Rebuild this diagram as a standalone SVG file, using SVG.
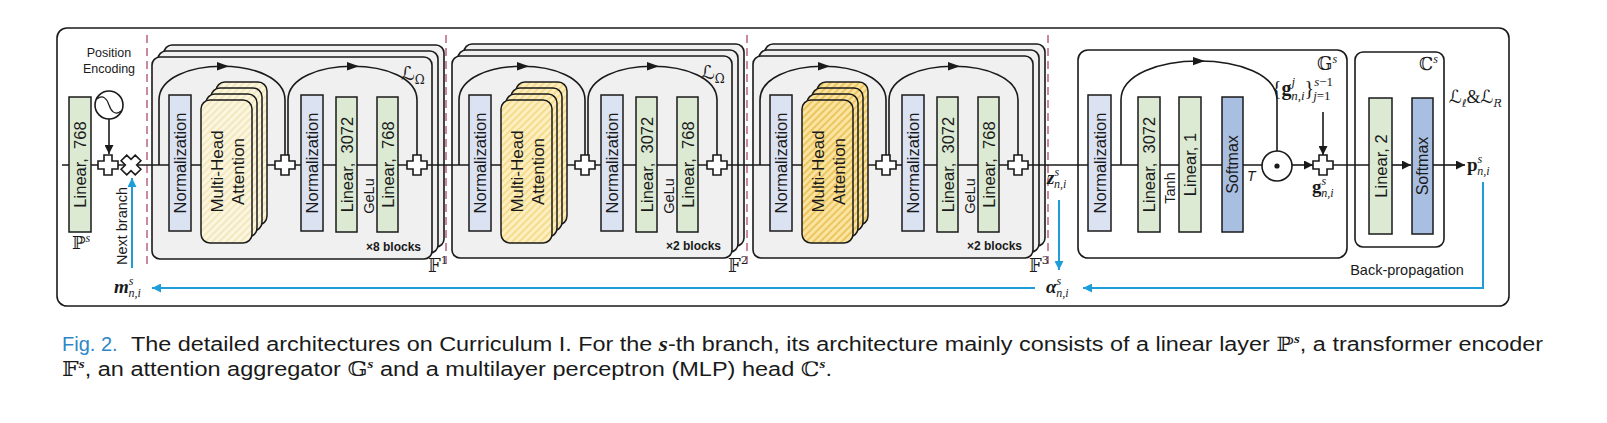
<svg xmlns="http://www.w3.org/2000/svg" width="1607" height="423" viewBox="0 0 1607 423">
<style>
.s{font-family:"Liberation Sans",Arial,sans-serif;fill:#1a1a1a}
.m{font-family:"Liberation Serif","DejaVu Serif",serif;fill:#1a1a1a}
.ds{font-family:"DejaVu Serif","DejaVu Sans",serif;fill:#1a1a1a}
.bx{stroke:#1a1a1a;stroke-width:1.5}
.lin{fill:#dce9d3}
.nrm{fill:#dbe2f2}
.sft{fill:#a9bfe1}
.blk{fill:#f0f0f0;stroke:#1a1a1a;stroke-width:1.6}
.wb{fill:#fff;stroke:#1a1a1a;stroke-width:1.6}
.ln{fill:none;stroke:#1a1a1a;stroke-width:1.6}
.bl{fill:none;stroke:#1e9dd8;stroke-width:2}
.dash{stroke:#c98a9d;stroke-width:2;stroke-dasharray:8 5}
.pl{fill:#fff;stroke:#1a1a1a;stroke-width:1.6}
.bt{font-size:16.5px}
</style>
<defs>
<marker id="ah" viewBox="0 0 10 10" refX="10" refY="5" markerUnits="userSpaceOnUse" markerWidth="11" markerHeight="9" orient="auto"><path d="M0,0 L10,5 L0,10 Z" fill="#1a1a1a"/></marker>
<marker id="ab" viewBox="0 0 10 10" refX="10" refY="5" markerUnits="userSpaceOnUse" markerWidth="11" markerHeight="9" orient="auto"><path d="M0,0 L10,5 L0,10 Z" fill="#1e9dd8"/></marker>
<path id="plus" d="M-4,-10 H4 V-4 H10 V4 H4 V10 H-4 V4 H-10 V-4 H-4 Z"/>
<pattern id="h1" patternUnits="userSpaceOnUse" width="5" height="5" patternTransform="rotate(45)"><rect width="5" height="5" fill="#fcf6df"/><line x1="1" y1="0" x2="1" y2="5" stroke="#efe2b2" stroke-width="1.4"/></pattern>
<pattern id="h2" patternUnits="userSpaceOnUse" width="5" height="5" patternTransform="rotate(45)"><rect width="5" height="5" fill="#fdefbf"/><line x1="1" y1="0" x2="1" y2="5" stroke="#f2d57e" stroke-width="1.5"/></pattern>
<pattern id="h3" patternUnits="userSpaceOnUse" width="5" height="5" patternTransform="rotate(45)"><rect width="5" height="5" fill="#fbe4a0"/><line x1="1" y1="0" x2="1" y2="5" stroke="#e8bd50" stroke-width="1.6"/></pattern>
</defs>
<rect width="1607" height="423" fill="#fff"/>

<g id="outer"><rect x="57" y="28" width="1452" height="278" rx="10" fill="none" stroke="#1a1a1a" stroke-width="1.6"/></g>

<g id="dividers">
<line class="dash" x1="147" y1="35" x2="147" y2="265"/>
<line class="dash" x1="446" y1="35" x2="446" y2="265"/>
<line class="dash" x1="747" y1="35" x2="747" y2="265"/>
<line class="dash" x1="1048" y1="35" x2="1048" y2="265"/>
</g>

<g id="F1-frame">
<rect class="blk" x="164" y="45" width="280" height="202" rx="8"/>
<rect class="blk" x="158" y="51" width="280" height="202" rx="8"/>
<rect class="blk" x="152" y="57" width="280" height="202" rx="8"/>
<text class="ds" x="401" y="80" font-size="19" font-style="italic">ℒ<tspan font-size="12" font-style="normal" dy="4">Ω</tspan></text>
<text class="s" x="421" y="251" font-size="12" font-weight="bold" text-anchor="end">×8 blocks</text>
<text class="ds" x="428" y="272" font-size="18">𝔽<tspan font-size="11" dy="-8">1</tspan></text>
</g>
<g id="F2-frame" transform="translate(300,-1)">
<rect class="blk" x="164" y="45" width="280" height="202" rx="8"/>
<rect class="blk" x="158" y="51" width="280" height="202" rx="8"/>
<rect class="blk" x="152" y="57" width="280" height="202" rx="8"/>
<text class="ds" x="401" y="80" font-size="19" font-style="italic">ℒ<tspan font-size="12" font-style="normal" dy="4">Ω</tspan></text>
<text class="s" x="421" y="251" font-size="12" font-weight="bold" text-anchor="end">×2 blocks</text>
<text class="ds" x="428" y="273" font-size="18">𝔽<tspan font-size="11" dy="-8">2</tspan></text>
</g>
<g id="F3-frame" transform="translate(601,-1)">
<rect class="blk" x="164" y="45" width="280" height="202" rx="8"/>
<rect class="blk" x="158" y="51" width="280" height="202" rx="8"/>
<rect class="blk" x="152" y="57" width="280" height="202" rx="8"/>
<text class="s" x="421" y="251" font-size="12" font-weight="bold" text-anchor="end">×2 blocks</text>
<text class="ds" x="428" y="273" font-size="18">𝔽<tspan font-size="11" dy="-8">3</tspan></text>
</g>

<g id="G-frame">
<rect class="wb" x="1078" y="50" width="269" height="208" rx="10"/>
<text class="ds" x="1317" y="70" font-size="18">𝔾<tspan class="m" font-size="12" font-style="italic" dy="-7">s</tspan></text>
</g>
<g id="C-frame">
<rect class="wb" x="1355" y="52" width="89" height="195" rx="8"/>
<text class="ds" x="1419" y="70" font-size="18">ℂ<tspan class="m" font-size="12" font-style="italic" dy="-7">s</tspan></text>
</g>

<g id="connectors">
<line class="ln" x1="62" y1="165" x2="1262" y2="165"/>
<line class="ln" x1="109" y1="119" x2="109" y2="154" marker-end="url(#ah)"/>
<path class="ln" d="M159,165 V100 C159,55 285,55 285,100 V155"/>
<path class="ln" d="M288,155 V100 C288,55 417,55 417,100 V155"/>
<path class="ln" d="M459,165 V100 C459,55 585,55 585,100 V155"/>
<path class="ln" d="M588,155 V100 C588,55 717,55 717,100 V155"/>
<path class="ln" d="M760,165 V100 C760,55 886,55 886,100 V155"/>
<path class="ln" d="M889,155 V100 C889,55 1018,55 1018,100 V155"/>
<path class="ln" d="M1121,165 V100 C1121,48 1277,48 1277,100 V151"/>
<g fill="#1a1a1a">
<path d="M217,62 L229,66.3 L217,70.5 Z"/>
<path d="M347,62 L359,66.3 L347,70.5 Z"/>
<path d="M517,62 L529,66.3 L517,70.5 Z"/>
<path d="M647,62 L659,66.3 L647,70.5 Z"/>
<path d="M818,62 L830,66.3 L818,70.5 Z"/>
<path d="M948,62 L960,66.3 L948,70.5 Z"/>
<path d="M1193,57 L1205,61 L1193,65.3 Z"/>
</g>
<line class="ln" x1="1292" y1="165" x2="1313" y2="165" marker-end="url(#ah)"/>
<line class="ln" x1="1323" y1="112" x2="1323" y2="155" marker-end="url(#ah)"/>
<line class="ln" x1="1333" y1="165" x2="1369" y2="165"/>
<line class="ln" x1="1392" y1="165" x2="1411" y2="165" marker-end="url(#ah)"/>
<line class="ln" x1="1433" y1="165" x2="1465" y2="165" marker-end="url(#ah)"/>
<line class="bl" x1="132" y1="268" x2="132" y2="178" marker-end="url(#ab)"/>
<line class="bl" x1="1035" y1="288" x2="152" y2="288" marker-end="url(#ab)"/>
<line class="bl" x1="1059" y1="200" x2="1059" y2="270" marker-end="url(#ab)"/>
<polyline class="bl" points="1483,182 1483,288 1083,288" marker-end="url(#ab)"/>
</g>

<g id="P">
<rect class="bx lin" x="69" y="97" width="22" height="135"/>
<text class="s bt" transform="translate(80,164.5) rotate(-90)" text-anchor="middle" dominant-baseline="central" xml:space="preserve">Linear,  768</text>
<text class="ds" x="72" y="249" font-size="18">ℙ<tspan class="m" font-size="12" font-style="italic" dy="-7">s</tspan></text>
</g>
<g id="PE">
<text class="s" x="109" y="57" font-size="12.5" text-anchor="middle" fill="#333">Position</text>
<text class="s" x="109" y="73" font-size="12.5" text-anchor="middle" fill="#333">Encoding</text>
<circle cx="109" cy="105" r="14" fill="#fff" stroke="#1a1a1a" stroke-width="1.6"/>
<path d="M97,99 C103,94 107,99 109,105 C111,111 115,116 121,111" fill="none" stroke="#1a1a1a" stroke-width="1.2"/>
</g>
<g id="add-pe"><use href="#plus" x="108" y="165" class="pl"/></g>
<g id="mix"><use href="#plus" transform="translate(131,165) rotate(45)" class="pl"/></g>
<g id="next-branch">
<text class="s" transform="translate(122,226) rotate(-90)" font-size="14.5" text-anchor="middle" dominant-baseline="central">Next branch</text>
<text class="m" x="114" y="293" font-size="19" font-weight="bold" font-style="italic">m<tspan font-size="12" font-weight="normal" dy="-8">s</tspan><tspan font-size="12" font-weight="normal" dx="-5" dy="12">n,i</tspan></text>
</g>

<g id="F1">
<g id="F1-norm1"><rect class="bx nrm" x="169" y="95" width="22" height="136"/><text class="s bt" transform="translate(180,163) rotate(-90)" text-anchor="middle" dominant-baseline="central">Normalization</text></g>
<g id="F1-mha">
<rect class="bx" fill="url(#h1)" x="216" y="82" width="51" height="143" rx="9"/>
<rect class="bx" fill="url(#h1)" x="211" y="88" width="51" height="143" rx="9"/>
<rect class="bx" fill="url(#h1)" x="206" y="94" width="51" height="143" rx="9"/>
<rect class="bx" fill="url(#h1)" x="201" y="100" width="51" height="143" rx="9"/>
<text class="s" font-size="17" transform="translate(226.5,171.5) rotate(-90)" text-anchor="middle"><tspan x="0" y="-4">Multi-Head</tspan><tspan x="0" y="17">Attention</tspan></text>
</g>
<g id="F1-add1"><use href="#plus" x="285" y="165" class="pl"/></g>
<g id="F1-norm2"><rect class="bx nrm" x="301" y="95" width="22" height="136"/><text class="s bt" transform="translate(312,163) rotate(-90)" text-anchor="middle" dominant-baseline="central">Normalization</text></g>
<g id="F1-lin1"><rect class="bx lin" x="336" y="97" width="21" height="135"/><text class="s bt" transform="translate(346.5,164.5) rotate(-90)" text-anchor="middle" dominant-baseline="central" xml:space="preserve">Linear,  3072</text></g>
<text class="s" transform="translate(369,196) rotate(-90)" font-size="14.5" text-anchor="middle" dominant-baseline="central">GeLu</text>
<g id="F1-lin2"><rect class="bx lin" x="377" y="97" width="21" height="135"/><text class="s bt" transform="translate(387.5,164.5) rotate(-90)" text-anchor="middle" dominant-baseline="central" xml:space="preserve">Linear,  768</text></g>
<g id="F1-add2"><use href="#plus" x="417" y="165" class="pl"/></g>
</g>

<g id="F2" transform="translate(300,0)">
<g id="F2-norm1"><rect class="bx nrm" x="169" y="95" width="22" height="136"/><text class="s bt" transform="translate(180,163) rotate(-90)" text-anchor="middle" dominant-baseline="central">Normalization</text></g>
<g id="F2-mha">
<rect class="bx" fill="url(#h2)" x="216" y="82" width="51" height="143" rx="9"/>
<rect class="bx" fill="url(#h2)" x="211" y="88" width="51" height="143" rx="9"/>
<rect class="bx" fill="url(#h2)" x="206" y="94" width="51" height="143" rx="9"/>
<rect class="bx" fill="url(#h2)" x="201" y="100" width="51" height="143" rx="9"/>
<text class="s" font-size="17" transform="translate(226.5,171.5) rotate(-90)" text-anchor="middle"><tspan x="0" y="-4">Multi-Head</tspan><tspan x="0" y="17">Attention</tspan></text>
</g>
<g id="F2-add1"><use href="#plus" x="285" y="165" class="pl"/></g>
<g id="F2-norm2"><rect class="bx nrm" x="301" y="95" width="22" height="136"/><text class="s bt" transform="translate(312,163) rotate(-90)" text-anchor="middle" dominant-baseline="central">Normalization</text></g>
<g id="F2-lin1"><rect class="bx lin" x="336" y="97" width="21" height="135"/><text class="s bt" transform="translate(346.5,164.5) rotate(-90)" text-anchor="middle" dominant-baseline="central" xml:space="preserve">Linear,  3072</text></g>
<text class="s" transform="translate(369,196) rotate(-90)" font-size="14.5" text-anchor="middle" dominant-baseline="central">GeLu</text>
<g id="F2-lin2"><rect class="bx lin" x="377" y="97" width="21" height="135"/><text class="s bt" transform="translate(387.5,164.5) rotate(-90)" text-anchor="middle" dominant-baseline="central" xml:space="preserve">Linear,  768</text></g>
<g id="F2-add2"><use href="#plus" x="417" y="165" class="pl"/></g>
</g>

<g id="F3" transform="translate(601,0)">
<g id="F3-norm1"><rect class="bx nrm" x="169" y="95" width="22" height="136"/><text class="s bt" transform="translate(180,163) rotate(-90)" text-anchor="middle" dominant-baseline="central">Normalization</text></g>
<g id="F3-mha">
<rect class="bx" fill="url(#h3)" x="216" y="82" width="51" height="143" rx="9"/>
<rect class="bx" fill="url(#h3)" x="211" y="88" width="51" height="143" rx="9"/>
<rect class="bx" fill="url(#h3)" x="206" y="94" width="51" height="143" rx="9"/>
<rect class="bx" fill="url(#h3)" x="201" y="100" width="51" height="143" rx="9"/>
<text class="s" font-size="17" transform="translate(226.5,171.5) rotate(-90)" text-anchor="middle"><tspan x="0" y="-4">Multi-Head</tspan><tspan x="0" y="17">Attention</tspan></text>
</g>
<g id="F3-add1"><use href="#plus" x="285" y="165" class="pl"/></g>
<g id="F3-norm2"><rect class="bx nrm" x="301" y="95" width="22" height="136"/><text class="s bt" transform="translate(312,163) rotate(-90)" text-anchor="middle" dominant-baseline="central">Normalization</text></g>
<g id="F3-lin1"><rect class="bx lin" x="336" y="97" width="21" height="135"/><text class="s bt" transform="translate(346.5,164.5) rotate(-90)" text-anchor="middle" dominant-baseline="central" xml:space="preserve">Linear,  3072</text></g>
<text class="s" transform="translate(369,196) rotate(-90)" font-size="14.5" text-anchor="middle" dominant-baseline="central">GeLu</text>
<g id="F3-lin2"><rect class="bx lin" x="377" y="97" width="21" height="135"/><text class="s bt" transform="translate(387.5,164.5) rotate(-90)" text-anchor="middle" dominant-baseline="central" xml:space="preserve">Linear,  768</text></g>
<g id="F3-add2"><use href="#plus" x="417" y="165" class="pl"/></g>
</g>

<g id="z-label">
<text class="m" x="1047" y="184" font-size="19" font-weight="bold" font-style="italic">z<tspan font-size="12" font-weight="normal" dy="-8">s</tspan><tspan font-size="12" font-weight="normal" dx="-5" dy="12">n,i</tspan></text>
</g>
<g id="alpha-label">
<text class="m" x="1046" y="293" font-size="19" font-weight="bold" font-style="italic">α<tspan font-size="12" font-weight="normal" dy="-8">s</tspan><tspan font-size="12" font-weight="normal" dx="-5" dy="12">n,i</tspan></text>
</g>

<g id="G">
<g id="G-norm"><rect class="bx nrm" x="1088" y="95" width="23" height="136"/><text class="s bt" transform="translate(1099.5,163) rotate(-90)" text-anchor="middle" dominant-baseline="central">Normalization</text></g>
<g id="G-lin1"><rect class="bx lin" x="1138" y="97" width="22" height="135"/><text class="s bt" transform="translate(1149,164.5) rotate(-90)" text-anchor="middle" dominant-baseline="central" xml:space="preserve">Linear,  3072</text></g>
<text class="s" transform="translate(1170,188) rotate(-90)" font-size="14.5" text-anchor="middle" dominant-baseline="central">Tanh</text>
<g id="G-lin2"><rect class="bx lin" x="1179" y="97" width="22" height="135"/><text class="s bt" transform="translate(1190,164.5) rotate(-90)" text-anchor="middle" dominant-baseline="central">Linear, 1</text></g>
<g id="G-soft"><rect class="bx sft" x="1222" y="97" width="21" height="135"/><text class="s" font-size="16" transform="translate(1232.5,164.5) rotate(-90)" text-anchor="middle" dominant-baseline="central">Softmax</text></g>
<text class="s" x="1247" y="181" font-size="14" font-style="italic">T</text>
<g id="G-mul"><circle cx="1277" cy="166" r="15" fill="#fff" stroke="#1a1a1a" stroke-width="1.6"/><circle cx="1277" cy="166" r="2.6" fill="#1a1a1a"/></g>
<g id="G-add"><use href="#plus" x="1323" y="165" class="pl"/></g>
<text class="m" x="1272" y="95" font-size="20">{<tspan font-weight="bold">g</tspan><tspan font-size="13" font-style="italic" dy="-9">j</tspan><tspan font-size="13" font-style="italic" dx="-4" dy="14">n,i</tspan><tspan dy="-5">}</tspan><tspan font-size="13" font-style="italic" dy="-9">s</tspan><tspan font-size="13">−1</tspan><tspan font-size="13" dx="-20" dy="14"><tspan font-style="italic">j</tspan>=1</tspan></text>
<text class="m" x="1312" y="193" font-size="19" font-weight="bold">g<tspan font-size="12" font-weight="normal" font-style="italic" dy="-8">s</tspan><tspan font-size="12" font-weight="normal" font-style="italic" dx="-5" dy="12">n,i</tspan></text>
</g>

<g id="C">
<g id="C-lin"><rect class="bx lin" x="1369" y="98" width="23" height="136"/><text class="s bt" transform="translate(1380.5,166) rotate(-90)" text-anchor="middle" dominant-baseline="central">Linear, 2</text></g>
<g id="C-soft"><rect class="bx sft" x="1412" y="98" width="21" height="136"/><text class="s" font-size="16" transform="translate(1422.5,166) rotate(-90)" text-anchor="middle" dominant-baseline="central">Softmax</text></g>
</g>
<g id="loss">
<text class="ds" x="1449" y="103" font-size="18" font-style="italic">ℒ<tspan font-size="11" dy="4">ℓ</tspan><tspan dy="-4" class="m" font-style="normal">&amp;</tspan>ℒ<tspan font-size="11" dy="4">R</tspan></text>
<text class="m" x="1467" y="171" font-size="19" font-weight="bold">p<tspan font-size="12" font-weight="normal" font-style="italic" dy="-8">s</tspan><tspan font-size="12" font-weight="normal" font-style="italic" dx="-5" dy="12">n,i</tspan></text>
<text class="s" x="1407" y="275" font-size="14.5" text-anchor="middle">Back-propagation</text>
</g>

<g id="caption">
<text class="s" x="62" y="351" font-size="20" style="fill:#2f86c6">Fig. 2.</text>
<text class="s" x="131" y="351" font-size="20" textLength="1412" lengthAdjust="spacingAndGlyphs">The detailed architectures on Curriculum I. For the <tspan class="m" font-style="italic" font-weight="bold">s</tspan>-th branch, its architecture mainly consists of a linear layer <tspan class="ds">ℙ</tspan><tspan class="m" font-size="13" font-style="italic" font-weight="bold" dy="-8">s</tspan><tspan dy="8">, a transformer encoder</tspan></text>
<text class="s" x="62" y="376" font-size="20" textLength="770" lengthAdjust="spacingAndGlyphs"><tspan class="ds">𝔽</tspan><tspan class="m" font-size="13" font-style="italic" font-weight="bold" dy="-8">s</tspan><tspan dy="8">, an attention aggregator </tspan><tspan class="ds">𝔾</tspan><tspan class="m" font-size="13" font-style="italic" font-weight="bold" dy="-8">s</tspan><tspan dy="8"> and a multilayer perceptron (MLP) head </tspan><tspan class="ds">ℂ</tspan><tspan class="m" font-size="13" font-style="italic" font-weight="bold" dy="-8">s</tspan><tspan dy="8">.</tspan></text>
</g>
</svg>
